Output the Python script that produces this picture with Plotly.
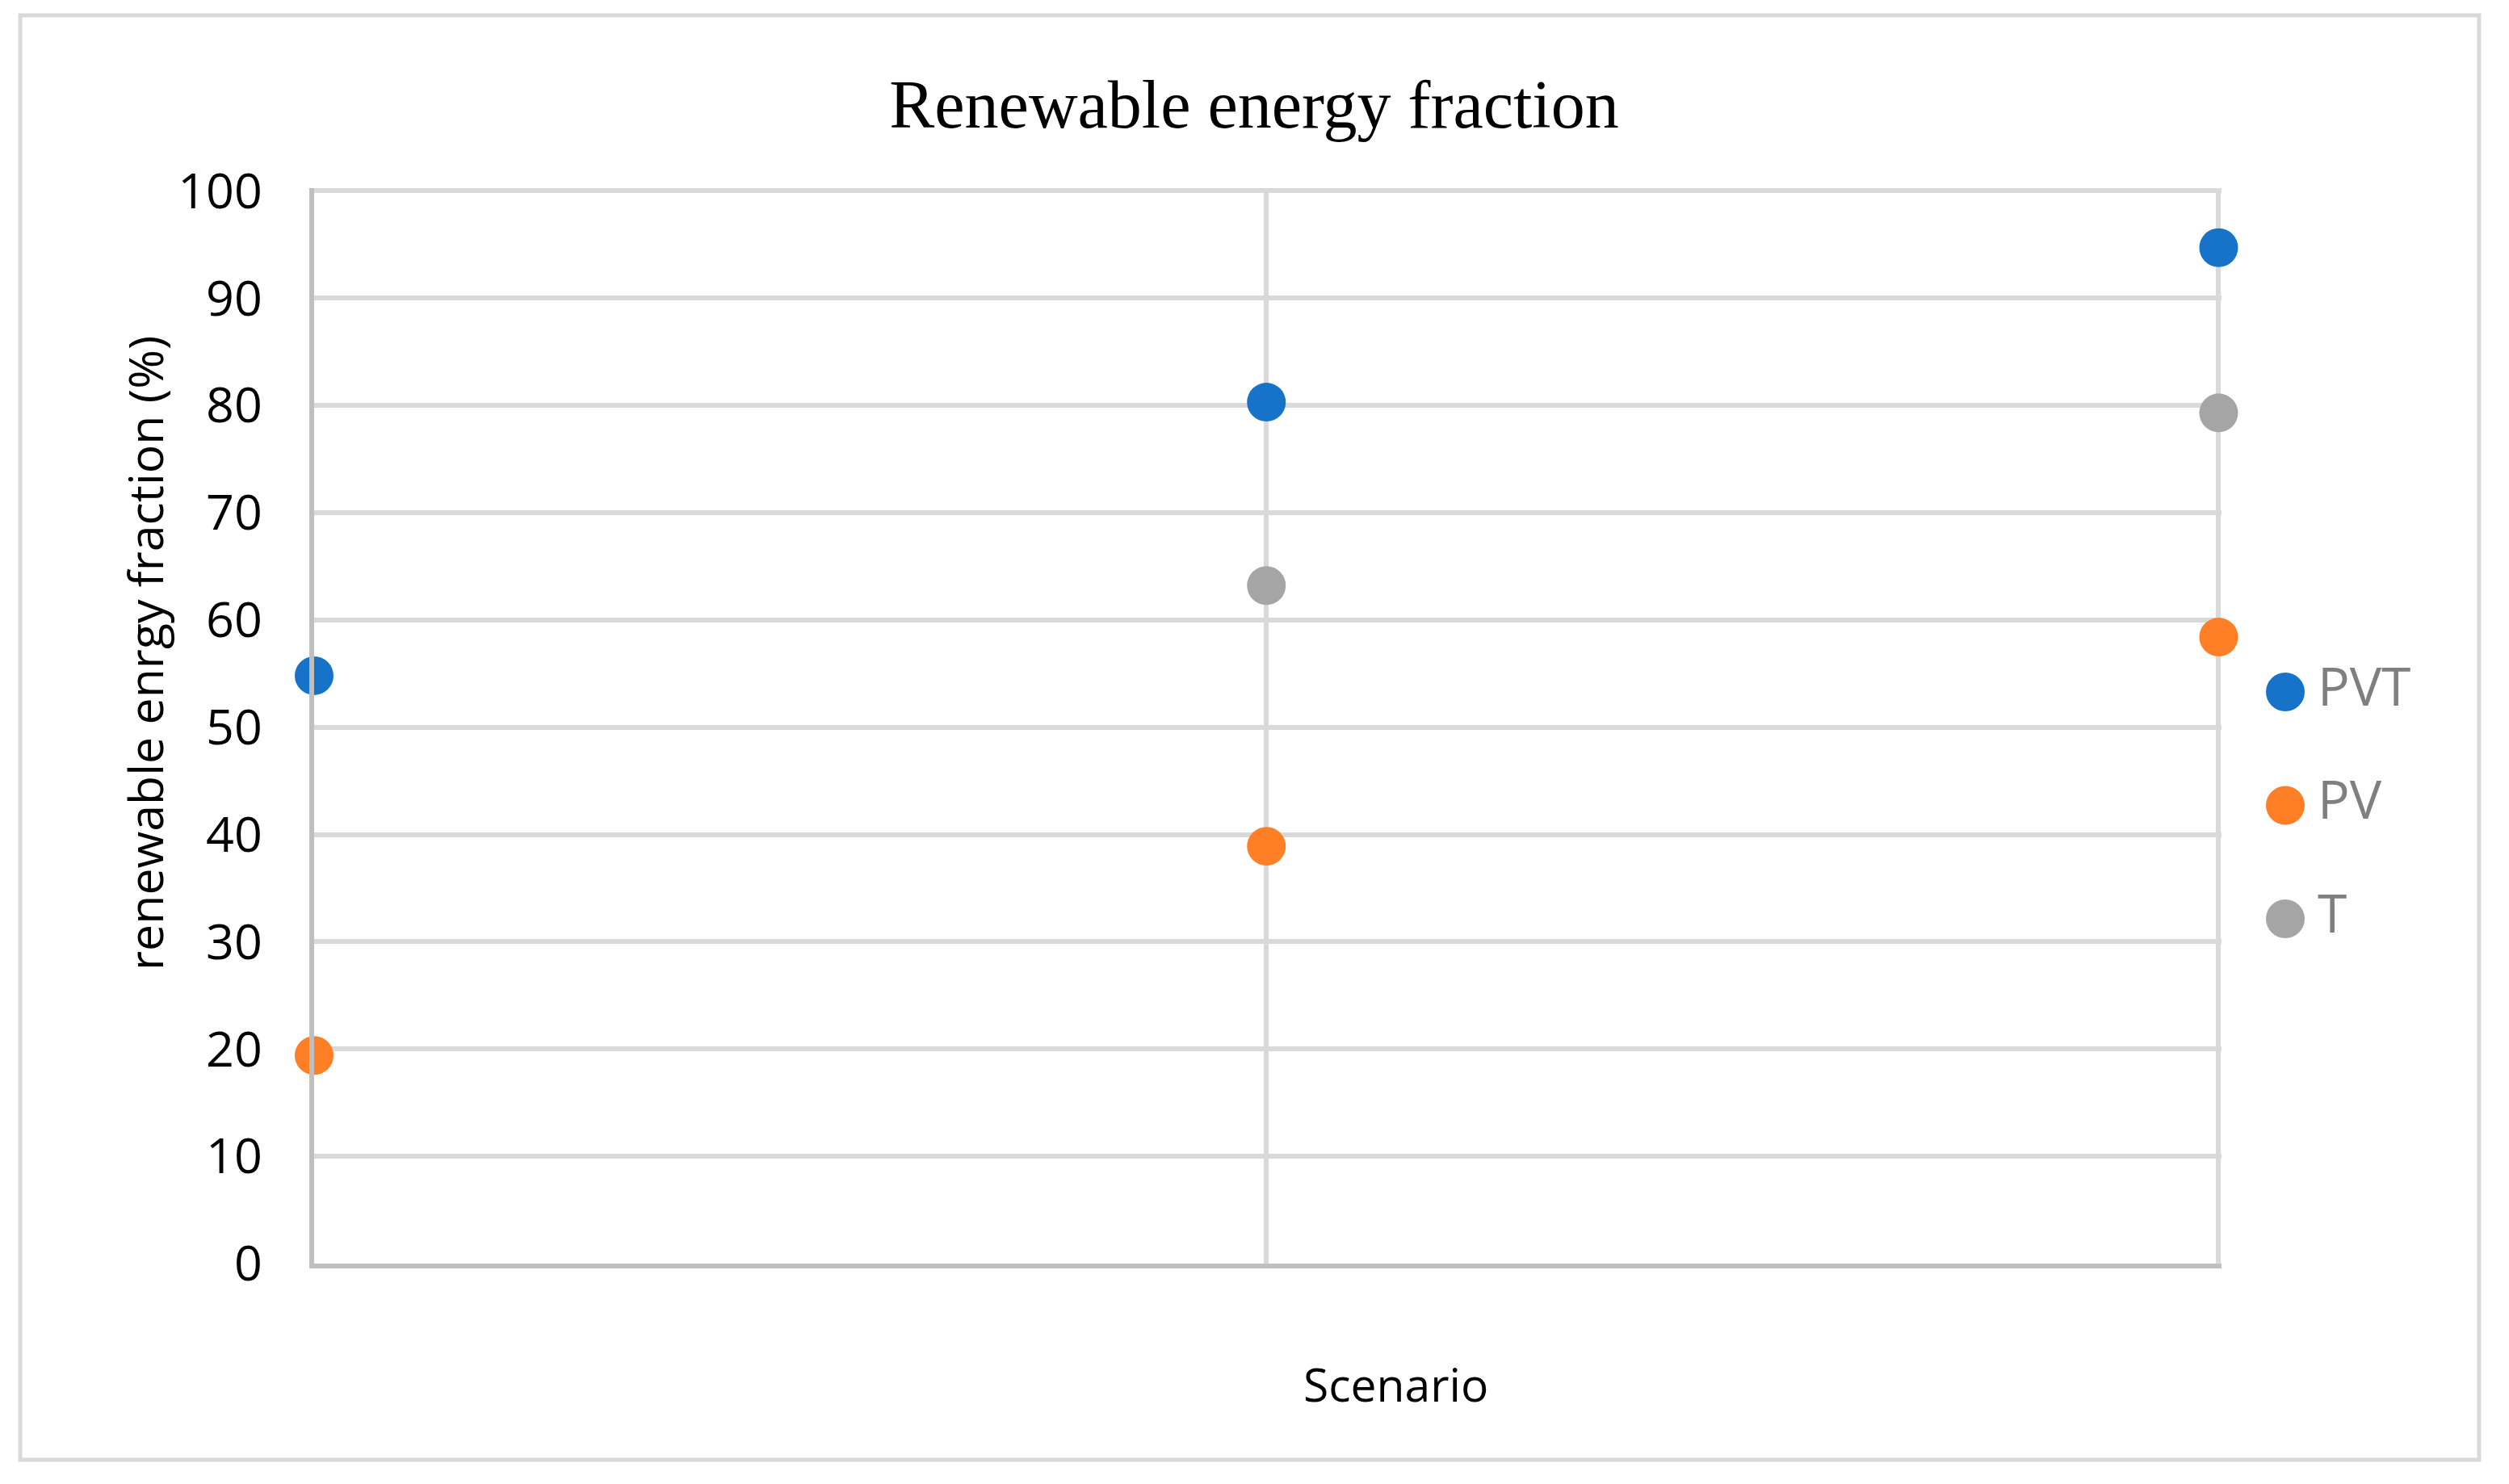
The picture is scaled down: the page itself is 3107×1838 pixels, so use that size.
import plotly.graph_objects as go

# Datos
scenarios = [1, 2, 3]
series_names = ['PVT', 'PV', 'T']
pvt = [54.8, 80.3, 94.7]
pv = [19.4, 38.9, 58.4]
t = [None, 63.2, 79.3]
colors = ['#1673c8', '#ff7f27', '#a5a5a5']
y_ticks = list(range(0, 101, 10))

# la pagina tiene 8px de margen en el body
W, H = 3091, 1822
OFF = 8


def fx(px):  # pixel horizontal de la imagen -> papel
    return (px - OFF) / W


def fy(py):  # pixel vertical de la imagen -> papel
    return 1 - (py - OFF) / H


fig = go.Figure()

for name, vals, col in zip(series_names, [pvt, pv, t], colors):
    fig.add_trace(go.Scatter(
        x=scenarios, y=vals, name=name, mode='markers',
        marker=dict(size=48, color=col),
        cliponaxis=False, showlegend=False,
    ))

# leyenda hecha a mano para tener puntos grandes
legend_rows = list(range(len(series_names)))
fig.add_trace(go.Scatter(
    x=[0] * len(series_names), y=legend_rows, mode='markers',
    marker=dict(size=48, color=colors),
    xaxis='x2', yaxis='y2', cliponaxis=False, showlegend=False, hoverinfo='skip',
))
fig.add_trace(go.Scatter(
    x=[40] * len(series_names), y=legend_rows, mode='text', text=series_names,
    textposition='middle right',
    textfont=dict(family='Open Sans', size=66, color='#7f7f7f'),
    xaxis='x2', yaxis='y2', cliponaxis=False, showlegend=False, hoverinfo='skip',
))

fig.update_layout(
    width=W, height=H,
    margin=dict(l=0, r=0, t=0, b=0, autoexpand=False),
    paper_bgcolor='white', plot_bgcolor='white',
    title=dict(text='Renewable energy fraction', x=fx(1553), xref='paper',
               y=fy(129), yref='container', yanchor='middle', xanchor='center',
               font=dict(family='Liberation Serif', size=84, color='black')),
    xaxis=dict(domain=[fx(389), fx(2751)], range=[1, 3.003], tickvals=scenarios,
               showticklabels=False, showgrid=True, gridcolor='#d9d9d9', gridwidth=6,
               showline=True, linecolor='#bfbfbf', linewidth=6, zeroline=False, ticks='',
               automargin=False),
    yaxis=dict(domain=[fy(1565), fy(233)], range=[0, 100.25], tickvals=y_ticks,
               showgrid=True, gridcolor='#d9d9d9', gridwidth=6,
               showline=True, linecolor='#bfbfbf', linewidth=6, zeroline=False,
               ticks='outside', ticklen=46, tickcolor='rgba(0,0,0,0)', automargin=False,
               tickfont=dict(family='Open Sans', size=61, color='black')),
    xaxis2=dict(domain=[fx(2780), fx(3060)], range=[-50, 230], visible=False, anchor='y2'),
    yaxis2=dict(domain=[fy(1200), fy(800)], range=[2.441, -0.406], visible=False, anchor='x2'),
)

# titulos de ejes
fig.add_annotation(x=fx(179), y=fy(809), xref='paper', yref='paper',
                   text='renewable enrgy fraction (%)', textangle=-90, showarrow=False,
                   xanchor='center', yanchor='middle',
                   font=dict(family='Open Sans', size=59, color='black'))
fig.add_annotation(x=fx(1728), y=fy(1714), xref='paper', yref='paper',
                   text='Scenario', showarrow=False, xanchor='center', yanchor='middle',
                   font=dict(family='Open Sans', size=57, color='black'))

# borde exterior
fig.add_shape(type='rect', xref='paper', yref='paper',
              x0=fx(25), x1=fx(3070), y0=fy(1808), y1=fy(19),
              line=dict(color='#d9d9d9', width=5))

fig.write_html("out.html")
